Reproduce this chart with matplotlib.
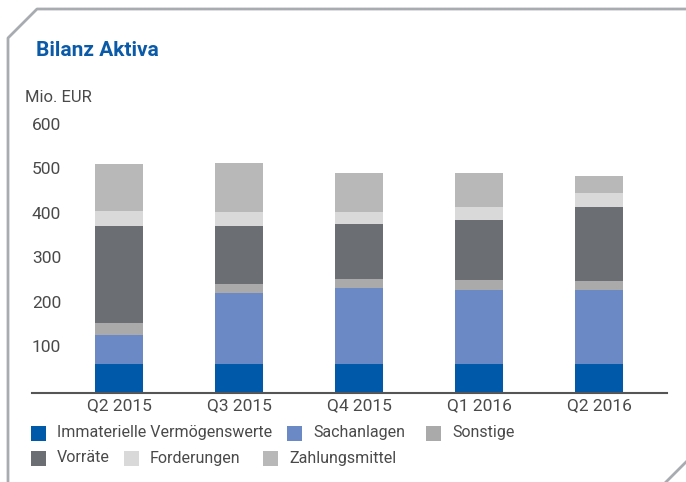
import matplotlib
matplotlib.use("Agg")
import matplotlib.pyplot as plt
from matplotlib.lines import Line2D
from matplotlib.patches import Rectangle

plt.rcParams['font.family'] = ['Roboto', 'DejaVu Sans']

# Daten (Mio. EUR)
quartale = ["Q2 2015", "Q3 2015", "Q4 2015", "Q1 2016", "Q2 2016"]
immaterielle = [65, 65, 65, 65, 65]
sachanlagen = [65, 159, 170, 166, 164]
sonstige = [25, 20, 20, 22, 22]
vorraete = [219, 130, 124, 135, 166]
forderungen = [32, 30, 26, 29, 31]
zahlungsmittel = [107, 111, 88, 76, 38]

y_ticks = [100, 200, 300, 400, 500, 600]

serien = [
    ("Immaterielle Vermögenswerte", immaterielle, "#005aa9"),
    ("Sachanlagen", sachanlagen, "#6b8ac5"),
    ("Sonstige", sonstige, "#aaaaab"),
    ("Vorräte", vorraete, "#6b6e72"),
    ("Forderungen", forderungen, "#d9d9d9"),
    ("Zahlungsmittel", zahlungsmittel, "#b8b8b9"),
]

W, H = 686, 482
fig = plt.figure(figsize=(W / 100, H / 100), dpi=100)


def fx(px):
    return px / W


def fy(py):
    return 1 - py / H


ax = fig.add_axes([fx(32), fy(392.5), fx(667) - fx(32), fy(125) - fy(392.5)])

x = range(len(quartale))
unten = [0] * len(quartale)
for name, werte, farbe in serien:
    ax.bar(x, werte, width=0.4, bottom=unten, color=farbe, linewidth=0, zorder=2)
    unten = [u + w for u, w in zip(unten, werte)]

ax.set_xlim(-0.725, 4.567)
ax.set_ylim(0, 600)
for s in ["top", "right", "left"]:
    ax.spines[s].set_visible(False)
ax.spines["bottom"].set_color("#555555")
ax.spines["bottom"].set_linewidth(1.5)
ax.set_yticks([])
ax.set_xticks(list(x))
ax.set_xticklabels(quartale, fontsize=12.5, color="#4a4a4a")
ax.tick_params(axis="x", length=0, pad=4)

# y-Beschriftung innerhalb der Achse, linksbündig
for t in y_ticks:
    ax.text(0.0, t, str(t), transform=ax.get_yaxis_transform(),
            ha="left", va="center", fontsize=12.5, color="#4a4a4a")

fig.text(fx(36), fy(51), "Bilanz Aktiva", fontsize=15, fontweight="bold",
         color="#0a5aa8", ha="left", va="center")
fig.text(fx(25), fy(97), "Mio. EUR", fontsize=12, color="#4a4a4a",
         ha="left", va="center")

# Legende (zweizeilig, fließend)
legende = [
    (31, 433, 0), (287, 433, 1), (426, 433, 2),
    (31, 458, 3), (124, 458, 4), (263, 458, 5),
]
for px, py, i in legende:
    name, _, farbe = serien[i]
    fig.add_artist(Rectangle((fx(px), fy(py + 7.5)), fx(15), 15 / H,
                             transform=fig.transFigure, color=farbe, lw=0))
    fig.text(fx(px + 26), fy(py), name, fontsize=11.5, color="#4a4a4a",
             ha="left", va="center")

# Rahmen mit abgeschrägten Ecken
rahmen = "#a8acb0"
fig.add_artist(Line2D([fx(8), fx(8), fx(37), fx(686)],
                      [fy(482), fy(38), fy(9), fy(9)],
                      transform=fig.transFigure, color=rahmen, lw=2))
fig.add_artist(Line2D([fx(664), fx(688)], [fy(484), fy(460)],
                      transform=fig.transFigure, color=rahmen, lw=2))

fig.savefig("out.png", dpi=100)
